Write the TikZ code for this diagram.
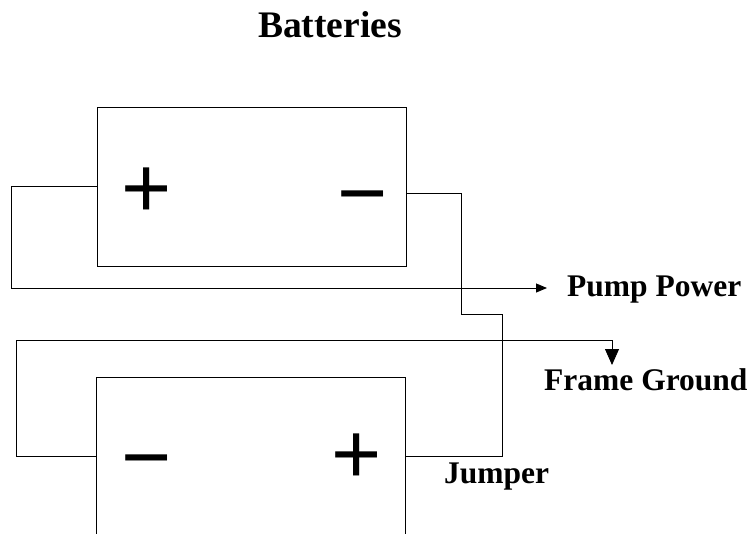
\documentclass[tikz,border=0pt]{standalone}
\usepackage{fontspec}
\setmainfont{Liberation Serif}
\newfontfamily\signfont{Liberation Sans}
\usetikzlibrary{arrows.meta}
\begin{document}
\begin{tikzpicture}[x=1pt,y=-1pt,
  wire/.style={line width=0.9pt},
  battery/.style={draw,line width=0.9pt,minimum width=309pt,minimum height=159pt,inner sep=0pt},
  sign/.style={font=\signfont\fontsize{86}{86}\selectfont,inner sep=0pt,anchor=base},
  lbl/.style={font=\bfseries\fontsize{31.5}{34}\selectfont,inner sep=0pt,anchor=base west},
  smalltip/.style={-{Triangle[length=11pt,width=9pt]}},
  bigtip/.style={-{Triangle[length=16pt,width=14pt]}}]
\useasboundingbox (0,0) rectangle (751,533);
\node[font=\bfseries\fontsize{37.5}{40}\selectfont,inner sep=0pt,anchor=base] (title) at (330,37) {Batteries};
\node[battery] (b1) at (251.5,186.5) {};
\node[battery] (b2) at (251,456.5) {};
\node[sign] (p1) at (147,217) {+};
\node[sign] (m1) at (363,222) {−};
\node[sign] (m2) at (147,486.5) {−};
\node[sign] (p2) at (357,483) {+};
\node[lbl] (pump) at (567,296) {Pump Power};
\node[lbl] (frame) at (544,390) {Frame Ground};
\node[lbl] (jump) at (444,483) {Jumper};
\coordinate (c1) at (11,288);
\coordinate (pa) at (547,288);
\coordinate (j1) at (461,314);
\coordinate (j2) at (502,456.5);
\coordinate (g1) at (16,340);
\coordinate (ga) at (612,365);
\draw[wire,smalltip] (b1.west) -| (c1) -- (pa);
\draw[wire] ([yshift=-6.5pt]b1.east) -| (j1) -| (j2) -- (b2.east);
\draw[wire,bigtip] (b2.west) -| (g1) -| (ga);
\end{tikzpicture}
\end{document}
